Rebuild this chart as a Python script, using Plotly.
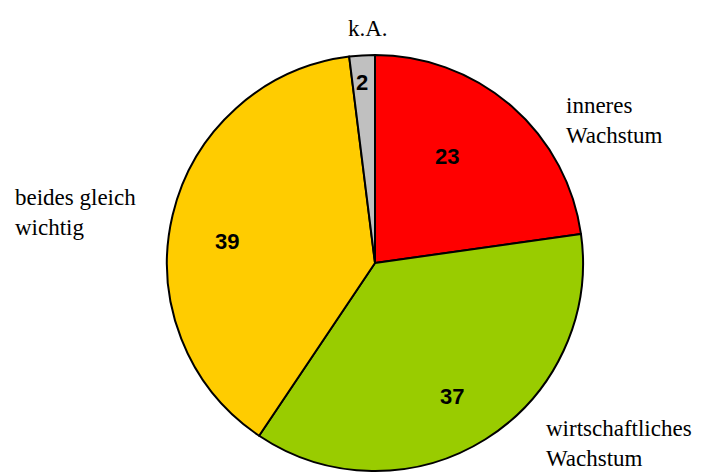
import plotly.graph_objects as go

categories = ["inneres<br>Wachstum", "wirtschaftliches<br>Wachstum", "beides gleich<br>wichtig", "k.A."]
values = [23, 37, 39, 2]
colors = ["#FF0000", "#99CC00", "#FFCC00", "#C0C0C0"]

W, H = 704, 473
OFF = 8  # page body margin offset

# pie placement (page pixels): center and radius
cx, cy, r = 375 - OFF, 263 - OFF, 208

fig = go.Figure(go.Pie(
    labels=categories,
    values=values,
    sort=False,
    direction="clockwise",
    rotation=0,
    marker=dict(colors=colors, line=dict(color="black", width=2)),
    textinfo="none",
    hoverinfo="label+value",
    domain=dict(x=[(cx - r) / W, (cx + r) / W], y=[1 - (cy + r) / H, 1 - (cy - r) / H]),
    showlegend=False,
))

# value label positions (page pixels)
value_pos = [(446.5, 156), (452, 396), (226.5, 241), (362, 82)]
# category label positions (page pixels) and anchors
cat_pos = [(564, 120, "left"), (544, 443, "left"), (13, 212, "left"), (368, 28, "center")]

ann = []
for v, (px, py) in zip(values, value_pos):
    ann.append(dict(x=(px - OFF) / W, y=1 - (py - OFF) / H, xref="paper", yref="paper", text=f"<b>{v}</b>",
                    showarrow=False, xanchor="center", yanchor="middle",
                    font=dict(family="Liberation Sans, Arial", size=22, color="black")))
for c, (px, py, xa) in zip(categories, cat_pos):
    ann.append(dict(x=(px - OFF) / W, y=1 - (py - OFF) / H, xref="paper", yref="paper", text=c,
                    showarrow=False, xanchor=xa, yanchor="middle", align="left",
                    font=dict(family="Liberation Serif, Times New Roman", size=23, color="black")))

fig.update_layout(
    width=W, height=H,
    margin=dict(l=0, r=0, t=0, b=0),
    paper_bgcolor="white",
    plot_bgcolor="white",
    annotations=ann,
)

fig.write_html("out.html")
